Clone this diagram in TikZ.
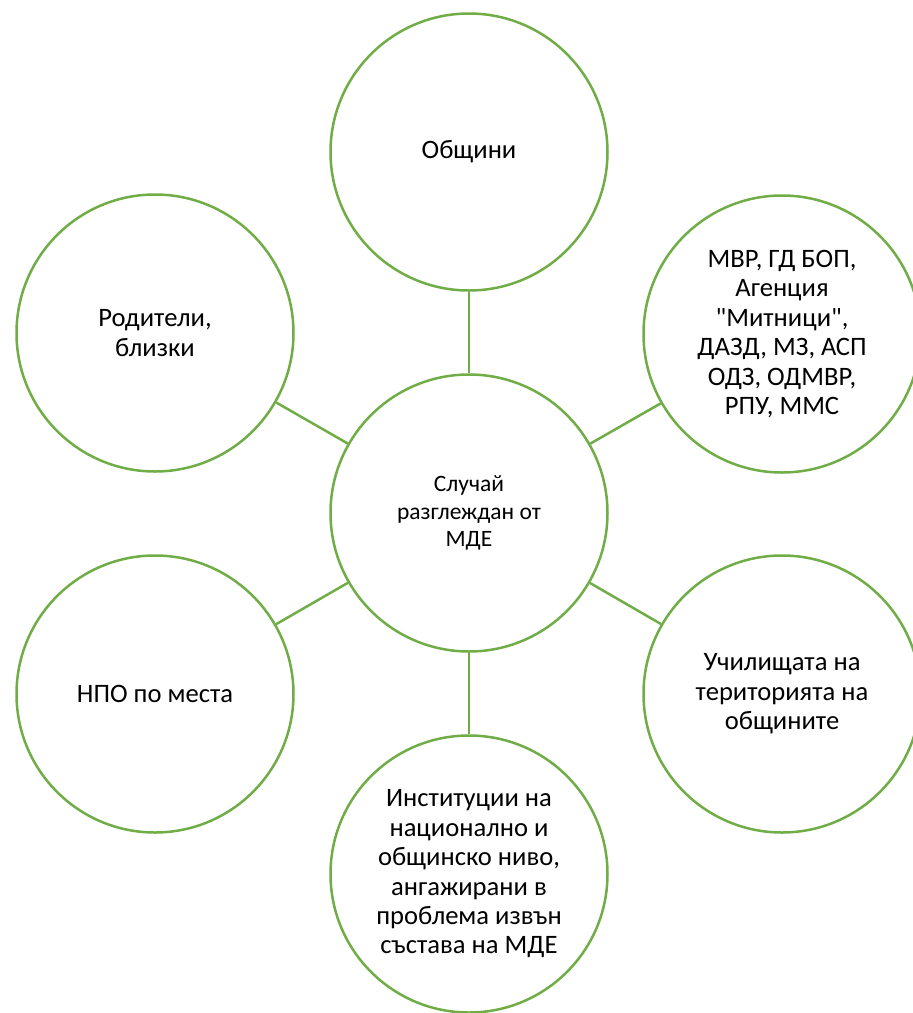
\documentclass[tikz,border=0pt]{standalone}
\usepackage{fontspec}
\setmainfont{Carlito}
\definecolor{sagreen}{HTML}{70AD47}
\begin{document}
\begin{tikzpicture}[x=1pt,y=-1pt,
  bubble/.style={circle, draw=sagreen, line width=2.5pt, minimum size=277pt, inner sep=0pt, align=center, font=\fontsize{26.6}{29.4}\selectfont},
  hub/.style={bubble, font=\fontsize{23.5}{27.5}\selectfont},
  spoke/.style={draw=sagreen, line width=2.5pt}]
\useasboundingbox (0,0) rectangle (913,1013);
\node[hub] (c) at (469,513) {Случай\\разглеждан от\\МДЕ};
\node[bubble] (t) at (469,152) {Общини};
\node[bubble] (ul) at (155,333) {Родители,\\близки};
\node[bubble] (ur) at (782,334) {МВР, ГД БОП,\\Агенция\\\textquotedbl Митници\textquotedbl,\\ДАЗД, МЗ, АСП\\ОДЗ, ОДМВР,\\РПУ, ММС};
\node[bubble] (ll) at (155,694) {НПО по места};
\node[bubble] (lr) at (782,694) {Училищата на\\територията на\\общините};
\node[bubble] (b) at (469,874) {Институции на\\национално и\\общинско ниво,\\ангажирани в\\проблема извън\\състава на МДЕ};
\draw[spoke] (c) -- (t);
\draw[spoke] (c) -- (ul);
\draw[spoke] (c) -- (ur);
\draw[spoke] (c) -- (ll);
\draw[spoke] (c) -- (lr);
\draw[spoke] (c) -- (b);
\end{tikzpicture}
\end{document}
